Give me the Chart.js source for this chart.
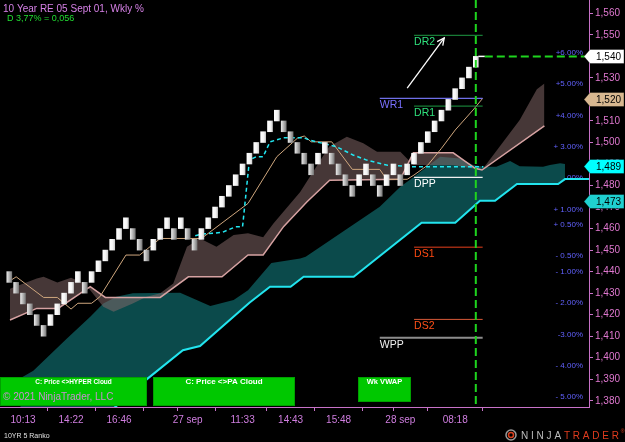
<!DOCTYPE html>
<html><head><meta charset="utf-8">
<script src="https://cdn.jsdelivr.net/npm/chart.js@4"></script>
<style>html,body{margin:0;padding:0;background:#000;}canvas{display:block;}</style>
</head><body>
<canvas id="c" width="625" height="442"></canvas>
<script>
// ---------------- DATA ----------------
// Renko bricks (5 ticks), index = brick number
const brickOpen  = [1440,1435,1430,1425,1420,1415,1415,1420,1425,1430,1435,1435,1435,1440,1445,1450,1455,1460,1460,1455,1450,1450,1455,1460,1460,1460,1460,1455,1455,1460,1465,1470,1475,1480,1485,1490,1495,1500,1505,1510,1510,1505,1500,1495,1490,1490,1495,1495,1490,1485,1480,1480,1485,1485,1480,1480,1485,1485,1485,1490,1495,1500,1505,1510,1515,1520,1525,1530,1535];
const brickClose = [1435,1430,1425,1420,1415,1410,1420,1425,1430,1435,1440,1430,1440,1445,1450,1455,1460,1465,1455,1450,1445,1455,1460,1465,1455,1465,1455,1450,1460,1465,1470,1475,1480,1485,1490,1495,1500,1505,1510,1515,1505,1500,1495,1490,1485,1495,1500,1490,1485,1480,1475,1485,1490,1480,1475,1485,1490,1480,1490,1495,1500,1505,1510,1515,1520,1525,1530,1535,1540];

// time axis (brick index -> label)
const timeTickIdx    = [2, 9, 16, 23, 26, 34, 41, 48, 55, 57, 65];
const timeTickLabels = ['10:13','14:22','16:46','','27 sep','11:33','14:43','15:48','','28 sep','08:18'];
const priceTicks = [1380,1390,1400,1410,1420,1430,1440,1450,1460,1470,1480,1490,1500,1510,1520,1530,1540,1550,1560];

// tan moving average
const smaX = [0,1,5,7,9,10,12,13.2,17,19,22,28,34.8,39,42,43,44,47,50,54,55,58,59,61,63,65,67.6,69];
const smaY = [1435.5,1437.6,1428,1428,1422.6,1425.3,1425.3,1428.3,1447.7,1447.7,1455.4,1455.4,1471.7,1493.4,1502,1503,1500.3,1500.3,1487.5,1487.5,1482.9,1482.9,1484.9,1489.5,1497.3,1505.8,1515.1,1520.5];

// weekly VWAP (cyan dashed)
const vwapX = [27.1,28,31,33,34,35,36,37,38,40,42.9,43.8,47.7,50.1,52.1,55,58.9,69.1];
const vwapY = [1456.7,1457.4,1458.2,1460.8,1460.8,1491.8,1493.4,1493.4,1500.3,1502.2,1502.2,1501.1,1498,1494.2,1491.8,1489.5,1488.7,1488.7];

// PA cloud (mauve): base = pink line, top = other edge
const paBaseX = [0.1,4,7.1,11.8,14,22,26.1,31,34.8,37,40,43.4,46.7,57,58.9,64.7,67.9,68.9,78];
const paBaseY = [1417.5,1422.9,1422.9,1433,1428,1428,1437.6,1437.6,1447.7,1447.7,1461,1472.5,1482.5,1482.9,1495.2,1495.2,1488,1487.2,1507.7];
const paTopX = [0.1,4,5,7,9,11,11.8,13.7,15.2,18,20,22,23.9,25.9,27.8,30.2,32.7,34.8,37,38.5,42.4,46.6,49.2,51.6,53.6,57,58.9,64.7,68.9,74.4,76.9,78];
const paTopY = [1432,1436.8,1437.6,1435,1437.1,1434.5,1431.4,1423.7,1421.4,1425.2,1428.3,1429.9,1434.5,1451.5,1455.4,1451.5,1457,1457.8,1456,1462.4,1477,1498,1502.7,1499.6,1495.7,1495.7,1489.5,1489.5,1487.2,1510.4,1524.7,1527.4];

// HYPER cloud (teal): base = bright cyan line, top = other edge
const hyBaseX = [-1.4,20.2,25.3,27.8,35,38,41,42.9,50.2,60.1,65,68.6,70.8,74,80,81,84.5];
const hyBaseY = [1330,1390.4,1403.5,1405.4,1425.5,1433,1433,1437.6,1437.6,1462.7,1462.7,1472.9,1472.9,1480.7,1480.7,1483,1483];
const hyTopX = [1.6,3.5,8.4,11.8,13.7,15.6,18,24.9,29.3,32.7,34.8,38.2,42.4,43.2,54,57,58.9,62.8,65.7,67.6,69.1,71,73,74.4,77.8,78.8,80.3,81];
const hyTopY = [1390.5,1394,1408.9,1419,1425.2,1428.3,1429.9,1430.2,1424,1426.8,1431.4,1444,1446.1,1446.9,1470.1,1479.4,1483.8,1493.4,1492.6,1489.5,1488.7,1488.7,1491.4,1489,1488.7,1489.5,1490.3,1490];

// pivots
const pivotNames  = ['DR2','WR1','DR1','DPP','DS1','DS2','WPP'];
const pivotValues = [1549.8,1520.5,1516.9,1483.8,1451.3,1417.8,1409.3];
const pivotFrom   = [59,54,59,59,59,59,54];
const pivotTo     = [69,69,69,69,69,69,69];

// weekly % levels
const pctBase   = 1454.4;
const pctLevels = [6,5,4,3,2,1,0.5,-0.5,-1,-2,-3,-4,-5];
const pctLabels = ['+6.00%','+5.00%','+4.00%','+ 3.00%','+2.00%','+ 1.00%','+ 0.50%','- 0.50%','- 1.00%','- 2.00%','-3.00%','- 4.00%','- 5.00%'];

// right-axis value markers
const markerValues = [1540,1520,1489,1473];
const markerLabels = ['1,540','1,520','1,489','1,473'];

// arrow annotation (index, price)
const arrowFrom = [58.0,1525.3];
const arrowTo   = [63.4,1548.6];
const lastBarIdx = 68;
const lastPrice = 1540;

// ---------------- STYLES ----------------
const pivotLineColors = ['#1e9a44','#6f6fe8','#1e9a44','#f0f0f0','#9a2a12','#d85a38','#8c8c8c'];
const pivotTextColors = ['#2fe07c','#7a70ff','#2fe07c','#ffffff','#ff4a12','#ff5018','#f0f0f0'];
const pivotWidths     = [1,1.2,1,1.2,1.5,1,2];
const markerFills     = ['#ffffff','#d8b890','#00ffff','#1fd0d0'];
const FONT = '"Liberation Sans", Arial, sans-serif';

const zip = (xs, ys) => xs.map((x, i) => ({x, y: ys[i]}));

const datasets = [];
datasets.push({
  type: 'bar', label: 'bricks', order: 0,
  data: brickOpen.map((o, i) => ({x: i, y: [Math.min(o, brickClose[i]), Math.max(o, brickClose[i])]})),
  barThickness: 5, borderWidth: 0,
  backgroundColor: (c) => {
    const i = c.dataIndex;
    const up = i !== undefined && brickClose[i] > brickOpen[i];
    const solid = up ? '#f4f4f4' : '#b0b0b0';
    if (i === undefined || !c.chart.scales || !c.chart.scales.x) return solid;
    const px = c.chart.scales.x.getPixelForValue(i);
    if (!isFinite(px)) return solid;
    const g = c.chart.ctx.createLinearGradient(px - 2.5, 0, px + 2.5, 0);
    if (up) { g.addColorStop(0, '#ffffff'); g.addColorStop(0.6, '#f4f4f4'); g.addColorStop(1, '#cfcfcf'); }
    else { g.addColorStop(0, '#e6e6e6'); g.addColorStop(0.5, '#b4b4b4'); g.addColorStop(1, '#7a7a7a'); }
    return g;
  }
});
datasets.push({ type:'line', label:'hyTop', order: 10, data: zip(hyTopX, hyTopY), borderWidth: 0, borderColor:'rgba(0,0,0,0)', pointRadius: 0, fill: 2, backgroundColor: '#0b4a4b' });
datasets.push({ type:'line', label:'hyBase', order: 9, data: zip(hyBaseX, hyBaseY), borderWidth: 2, borderColor:'#22e4ee', pointRadius: 0, fill: false });
datasets.push({ type:'line', label:'paTop', order: 8, data: zip(paTopX, paTopY), borderWidth: 0, borderColor:'rgba(0,0,0,0)', pointRadius: 0, fill: 4, backgroundColor: 'rgba(135,105,105,0.52)' });
datasets.push({ type:'line', label:'paBase', order: 7, data: zip(paBaseX, paBaseY), borderWidth: 1.5, borderColor:'#d6a2a2', pointRadius: 0, fill: false });
datasets.push({ type:'line', label:'sma', order: 5, data: zip(smaX, smaY), borderWidth: 1, borderColor:'#cfa77e', pointRadius: 0, fill: false });
datasets.push({ type:'line', label:'vwap', order: 4, data: zip(vwapX, vwapY), borderWidth: 1.5, borderColor:'#22e8f2', borderDash:[4,3], pointRadius: 0, fill: false });
pivotNames.forEach((n, k) => {
  datasets.push({ type:'line', label:n, order: 3, data:[{x:pivotFrom[k], y:pivotValues[k]},{x:pivotTo[k], y:pivotValues[k]}],
    borderWidth: pivotWidths[k], borderColor: pivotLineColors[k], pointRadius: 0, fill: false });
});

const overlay = {
  id: 'overlay',
  beforeDatasetsDraw(chart) {
    const {ctx, scales:{y}} = chart;
    ctx.save();
    ctx.font = '8px ' + FONT;
    ctx.fillStyle = '#6262ff';
    ctx.textAlign = 'right'; ctx.textBaseline = 'middle';
    pctLevels.forEach((p, k) => ctx.fillText(pctLabels[k], 583, y.getPixelForValue(pctBase * (1 + p / 100))));
    ctx.restore();
  },
  afterDatasetsDraw(chart) {
    const {ctx, scales:{x, y}, chartArea:a} = chart;
    ctx.save();
    // pivot labels
    ctx.font = '10.5px ' + FONT; ctx.textAlign = 'left'; ctx.textBaseline = 'middle';
    pivotNames.forEach((n, k) => {
      ctx.fillStyle = pivotTextColors[k];
      ctx.fillText(n, x.getPixelForValue(pivotFrom[k]), y.getPixelForValue(pivotValues[k]) + 7);
    });
    // arrow
    const x0 = x.getPixelForValue(arrowFrom[0]), y0 = y.getPixelForValue(arrowFrom[1]);
    const x1 = x.getPixelForValue(arrowTo[0]), y1 = y.getPixelForValue(arrowTo[1]);
    ctx.strokeStyle = '#ffffff'; ctx.lineWidth = 1.3;
    ctx.beginPath(); ctx.moveTo(x0, y0); ctx.lineTo(x1, y1); ctx.stroke();
    const ang = Math.atan2(y1 - y0, x1 - x0);
    ctx.beginPath();
    ctx.moveTo(x1 - 8 * Math.cos(ang - 0.45), y1 - 8 * Math.sin(ang - 0.45));
    ctx.lineTo(x1, y1);
    ctx.lineTo(x1 - 8 * Math.cos(ang + 0.45), y1 - 8 * Math.sin(ang + 0.45));
    ctx.stroke();
    // last price marker + green dashed cross
    const lx = x.getPixelForValue(lastBarIdx), ly = y.getPixelForValue(lastPrice);
    ctx.strokeStyle = '#ffffff'; ctx.lineWidth = 1.5;
    ctx.beginPath(); ctx.moveTo(lx + 2.5, ly); ctx.lineTo(lx + 9, ly); ctx.stroke();
    ctx.strokeStyle = '#1ed41e'; ctx.lineWidth = 2; ctx.setLineDash([8, 4]);
    ctx.beginPath(); ctx.moveTo(lx, a.top); ctx.lineTo(lx, a.bottom); ctx.stroke();
    ctx.beginPath(); ctx.moveTo(lx + 9, ly); ctx.lineTo(a.right, ly); ctx.stroke();
    ctx.setLineDash([]);
    // bottom status boxes
    const boxes = [[0,377,147,29,'C: Price <>HYPER Cloud','bold 6.5px '],[153,377,142,29,'C: Price <>PA Cloud','bold 8px '],[358,377,53,25,'Wk VWAP','bold 7.5px ']];
    boxes.forEach(b => {
      ctx.fillStyle = '#00c800'; ctx.fillRect(b[0], b[1], b[2], b[3]);
      ctx.strokeStyle = '#00a000'; ctx.lineWidth = 1; ctx.strokeRect(b[0] + 0.5, b[1] + 0.5, b[2] - 1, b[3] - 1);
      ctx.fillStyle = '#ffffff'; ctx.font = b[5] + FONT; ctx.textAlign = 'center'; ctx.textBaseline = 'middle';
      ctx.fillText(b[4], b[0] + b[2] / 2, 382);
    });
    ctx.font = '10px ' + FONT; ctx.textAlign = 'left'; ctx.fillStyle = '#c88ed0';
    ctx.fillText('\u00A9 2021 NinjaTrader, LLC', 3, 397);
    ctx.restore();
  },
  afterDraw(chart) {
    const {ctx, scales:{y}} = chart;
    ctx.save();
    // right axis value markers
    markerValues.forEach((v, k) => {
      const yy = Math.round(y.getPixelForValue(v)) + 0.5;
      ctx.beginPath();
      ctx.moveTo(584, yy); ctx.lineTo(590, yy - 7); ctx.lineTo(624, yy - 7); ctx.lineTo(624, yy + 7); ctx.lineTo(590, yy + 7); ctx.closePath();
      ctx.fillStyle = markerFills[k]; ctx.fill();
      ctx.strokeStyle = 'rgba(0,0,0,0.35)'; ctx.lineWidth = 1; ctx.stroke();
      ctx.fillStyle = '#000'; ctx.font = '10px ' + FONT; ctx.textAlign = 'left'; ctx.textBaseline = 'middle';
      ctx.fillText(markerLabels[k], 596, yy + 0.5);
    });
    // header
    ctx.textAlign = 'left'; ctx.textBaseline = 'middle';
    ctx.font = '10px ' + FONT; ctx.fillStyle = '#d680e6';
    ctx.fillText('10 Year RE 05 Sept 01, Wkly %', 3, 9);
    ctx.font = '9px ' + FONT; ctx.fillStyle = '#22dd33';
    ctx.fillText('D 3,77% = 0,056', 7, 19);
    // footer
    ctx.font = '7px ' + FONT; ctx.fillStyle = '#e0e0e0';
    ctx.fillText('10YR 5 Ranko', 4, 436);
    // logo
    ctx.strokeStyle = '#9a9a9a'; ctx.lineWidth = 1.5;
    ctx.beginPath(); ctx.arc(511, 435, 5, 0, Math.PI * 2); ctx.stroke();
    ctx.strokeStyle = '#d8401e';
    ctx.beginPath(); ctx.arc(511, 435, 2.5, 0, Math.PI * 2); ctx.stroke();
    ctx.font = '10px ' + FONT; ctx.letterSpacing = '2.8px';
    ctx.fillStyle = '#bdbdbd'; ctx.fillText('NINJA', 521, 436);
    const w = ctx.measureText('NINJA').width;
    ctx.fillStyle = '#e03c1e'; ctx.fillText('TRADER', 521 + w, 436);
    const w2 = ctx.measureText('TRADER').width;
    ctx.letterSpacing = '0px'; ctx.font = '5px ' + FONT; ctx.fillText('\u00AE', 521 + w + w2 - 1, 432);
    ctx.restore();
  }
};

new Chart(document.getElementById('c'), {
  type: 'line',
  data: { datasets },
  plugins: [overlay],
  options: {
    responsive: false, animation: false, devicePixelRatio: 1,
    layout: { padding: 0 },
    plugins: { legend: { display: false }, tooltip: { enabled: false } },
    scales: {
      x: {
        type: 'linear', min: -1.356, max: 84.5, offset: false,
        afterBuildTicks: s => { s.ticks = timeTickIdx.map(v => ({value: v})); },
        afterFit: s => { s.height = 35; s.paddingLeft = 0; s.paddingRight = 0; },
        ticks: { autoSkip: false, maxRotation: 0, padding: 3, color: '#d07ee0', font: { family: FONT, size: 10 },
          callback: (v, i) => timeTickLabels[i] },
        grid: { drawOnChartArea: false, drawTicks: true, tickLength: 4, color: '#c872c8' },
        border: { display: true, color: '#c872c8', width: 1 }
      },
      y: {
        type: 'linear', position: 'right', min: 1377.1, max: 1566.2,
        afterBuildTicks: s => { s.ticks = priceTicks.map(v => ({value: v})); },
        afterFit: s => { s.width = 36; s.paddingTop = 0; s.paddingBottom = 0; },
        ticks: { autoSkip: false, padding: 2, color: '#e078d0', font: { family: FONT, size: 10 },
          callback: v => v.toLocaleString('en-US') },
        grid: { drawOnChartArea: false, drawTicks: true, tickLength: 4, color: '#c872c8' },
        border: { display: true, color: '#c872c8', width: 1 }
      }
    }
  }
});
</script>
</body></html>
